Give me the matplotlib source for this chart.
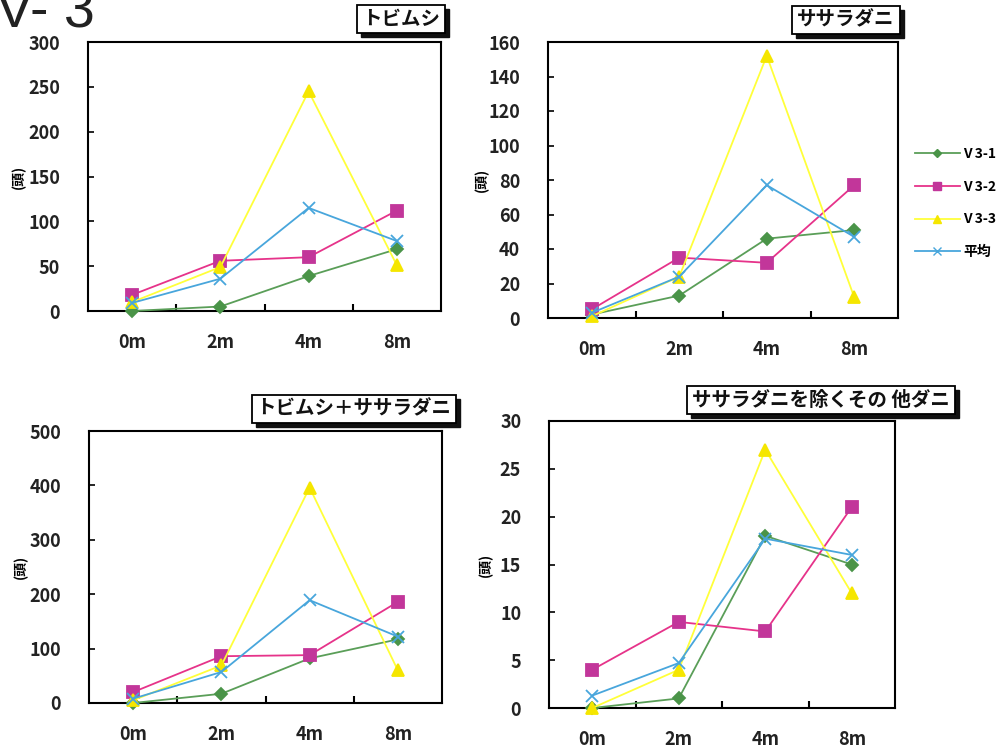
import matplotlib
matplotlib.use('Agg')
from matplotlib import pyplot as plt
from matplotlib import transforms
from matplotlib.lines import Line2D

plt.rcParams['font.family'] = ['Noto Sans CJK JP', 'DejaVu Sans']

# distance categories and series names
cats = ['0m', '2m', '4m', '8m']
series = ['V 3-1', 'V 3-2', 'V 3-3', '平均']

# トビムシ
tobi_v1 = [0, 5, 39, 69]
tobi_v2 = [18, 56, 60, 112]
tobi_v3 = [10, 49, 245, 51]
tobi_avg = [9, 36, 115, 78]

# ササラダニ
sasa_v1 = [2, 13, 46, 51]
sasa_v2 = [5, 35, 32, 77]
sasa_v3 = [1, 24, 152, 12]
sasa_avg = [3, 24, 77, 47]

# トビムシ + ササラダニ
sum_v1 = [0, 17, 82, 117]
sum_v2 = [20, 86, 88, 186]
sum_v3 = [5, 69, 396, 60]
sum_avg = [8, 57, 189, 122]

# ササラダニを除くその他ダニ
oth_v1 = [0, 1, 18, 15]
oth_v2 = [4, 9, 8, 21]
oth_v3 = [0, 4, 27, 12]
oth_avg = [1.3, 4.7, 17.7, 16]

line_col = ['#5a9e58', '#e6338a', '#ffff3a', '#48a6dc']
mark_col = ['#4a9448', '#c2369a', '#f5e600', '#48a6dc']
markers = ['D', 's', '^', 'x']
msizes = [6, 9, 8, 9]

fig = plt.figure(figsize=(10, 7.54), dpi=100)


def draw_panel(rect, data, ymax, ystep, title, title_xy, ylab_x):
	""" One small line chart with a boxed title. """
	ax = fig.add_axes(rect)
	x = list(range(len(cats)))
	for i, vals in enumerate(data):
		ax.plot(x, vals, color=line_col[i], lw=1.3, marker=markers[i],
			ms=msizes[i], mfc=mark_col[i], mec=mark_col[i],
			mew=1.3, clip_on=False, zorder=3 + i)
	ax.set_xlim(-0.5, 3.5)
	ax.set_ylim(0, ymax)
	ax.set_xticks(x)
	ax.set_xticklabels(cats)
	ax.set_xticks([0.5, 1.5, 2.5], minor=True)
	ax.set_yticks(range(0, ymax + 1, ystep))
	ax.tick_params(axis='x', which='major', length=0, pad=16,
		labelsize=13)
	ax.tick_params(axis='x', which='minor', direction='in', length=5,
		width=1.5)
	ax.tick_params(axis='y', direction='in', length=4, width=1.2,
		pad=20, labelsize=13)
	for lab in ax.get_xticklabels() + ax.get_yticklabels():
		lab.set_fontweight('bold')
		lab.set_color('#222222')
	for sp in ax.spines.values():
		sp.set_linewidth(1.5)
	# boxed title with drop shadow
	tx, ty = title_xy
	shadow = transforms.offset_copy(fig.transFigure, fig=fig, x=4, y=-4,
		units='dots')
	fig.text(tx, ty, title, transform=shadow, ha='center', va='center',
		fontsize=14, color='#111111', fontweight='bold',
		bbox=dict(boxstyle='square,pad=0.25', fc='#111111', ec='#111111'))
	fig.text(tx, ty, title, ha='center', va='center', fontsize=14,
		color='#111111', fontweight='bold',
		bbox=dict(boxstyle='square,pad=0.25', fc='white', ec='black',
			lw=1.3))
	cy = rect[1] + rect[3] / 2
	fig.text(ylab_x, cy, '(頭)', rotation=90, ha='center', va='center',
		fontsize=10, fontweight='bold')
	return ax


W, H = 1000.0, 754.0

draw_panel([88 / W, 1 - 311 / H, 353 / W, 269 / H],
	[tobi_v1, tobi_v2, tobi_v3, tobi_avg], 300, 50,
	'トビムシ', (401 / W, 1 - 19 / H), 19 / W)
draw_panel([548 / W, 1 - 318 / H, 350 / W, 276 / H],
	[sasa_v1, sasa_v2, sasa_v3, sasa_avg], 160, 20,
	'ササラダニ', (846 / W, 1 - 20 / H), 482 / W)
draw_panel([89 / W, 1 - 703 / H, 353 / W, 272 / H],
	[sum_v1, sum_v2, sum_v3, sum_avg], 500, 100,
	'トビムシ＋ササラダニ', (354 / W, 1 - 409 / H), 21 / W)
draw_panel([549 / W, 1 - 708 / H, 346 / W, 287 / H],
	[oth_v1, oth_v2, oth_v3, oth_avg], 30, 5,
	'ササラダニを除くその 他ダニ', (821 / W, 1 - 400 / H), 486 / W)

# legend beside the top right chart
handles = [Line2D([0], [0], color=line_col[i], lw=1.3, marker=markers[i],
		ms=msizes[i] * 0.7, mfc=mark_col[i], mec=mark_col[i])
	for i in range(len(series))]
leg = fig.legend(handles, series, loc='center left',
	bbox_to_anchor=(902 / W, 1 - 203 / H), frameon=False,
	prop={'size': 10, 'weight': 'bold'}, handlelength=3.3,
	handletextpad=0.2, labelspacing=1.35)

# page heading, cut off by the top edge
fig.text(-0.004, 1 - 27 / H, 'V- 3', fontsize=40, family='Liberation Sans',
	va='baseline', ha='left', color='#222222')

plt.savefig('out.png')
